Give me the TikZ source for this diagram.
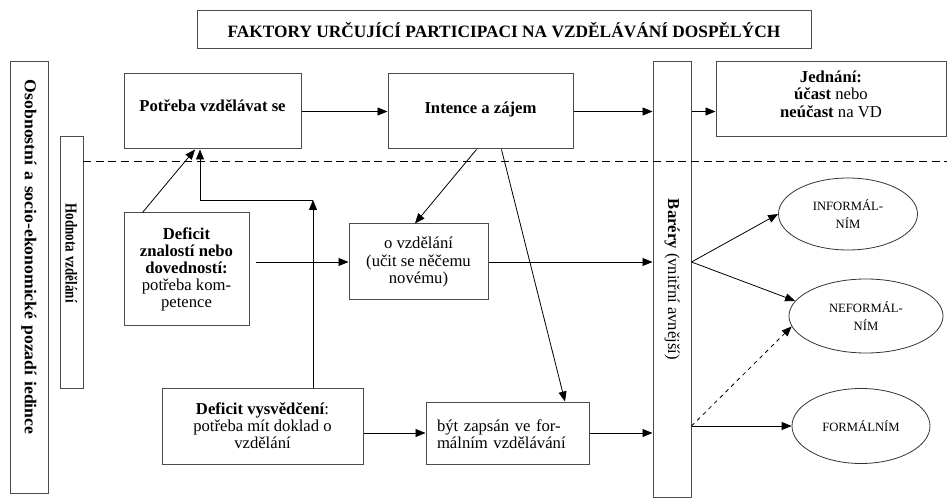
\documentclass[tikz,border=0pt]{standalone}
\usepackage{fontspec}
\setmainfont{Liberation Serif}
\usetikzlibrary{arrows.meta,shapes.geometric,calc}

\tikzset{
  ramec/.style={draw=black!70, line width=0.75pt, align=center, inner sep=2pt,
    font=\fontsize{12.5}{12.8}\selectfont},
  ovalek/.style={ellipse, draw=black!80, line width=0.6pt, align=center, inner sep=0pt,
    font=\fontsize{9.5}{14}\selectfont},
  sipka/.style={-{Triangle[length=7.5pt,width=6pt]}, line width=0.6pt},
  carkovane/.style={line width=0.75pt, dash pattern=on 6pt off 3.5pt},
}

\begin{document}
\begin{tikzpicture}[x=0.75pt, y=-0.75pt]
  \useasboundingbox (0,0) rectangle (947,499);

  % Nadpis
  \node[ramec, minimum width=460.5pt, minimum height=28.5pt,
    font=\fontsize{13}{14}\selectfont\bfseries] (nadpis) at (504,30)
    {FAKTORY URČUJÍCÍ PARTICIPACI NA VZDĚLÁVÁNÍ DOSPĚLÝCH};

  % Svislé sloupce
  \node[ramec, rotate=-90, inner xsep=13.5pt, inner ysep=0pt, text width=296.25pt, align=left,
    minimum height=28.5pt, font=\fontsize{12.5}{12.8}\selectfont\bfseries] (pozadi) at (29,277.5)
    {\scalebox{1.06}[1]{Osobnostní a socio-ekonomické pozadí iedince}};
  \node[ramec, rotate=-90, inner xsep=50pt, inner ysep=0pt, text width=88.25pt, align=left,
    minimum height=17.25pt, font=\fontsize{12.5}{12.8}\selectfont\bfseries] (hodnota) at (71.5,262.5)
    {\scalebox{0.78}[1]{Hodnota vzdělání}};
  \node[ramec, rotate=-90, inner sep=0pt, minimum width=326.25pt, minimum height=28.5pt]
    (bariery) at (672,279.5) {\textbf{Baréry} (vnitřní avnější)};

  % Dělicí čára
  \draw[carkovane] (83,162) -- (947,162);

  % Horní řada
  \node[ramec, minimum width=132.75pt, minimum height=56.25pt, text depth=9pt,
    font=\fontsize{12.5}{12.8}\selectfont\bfseries] (potreba) at (212.5,111.5) {Potřeba vzdělávat se};
  \node[ramec, minimum width=138.75pt, minimum height=56.25pt, text depth=6pt,
    font=\fontsize{12.5}{12.8}\selectfont\bfseries] (intence) at (480.5,111.5) {Intence a zájem};
  \node[ramec, minimum width=172.5pt, minimum height=56.25pt, text depth=8pt]
    (jednani) at (831,99.5) {\textbf{Jednání:}\\ \textbf{účast} nebo\\ \textbf{neúčast} na VD};

  % Deficity
  \node[ramec, minimum width=93.75pt, minimum height=84.75pt] (znalosti) at (186.5,269.5)
    {\textbf{Deficit}\\ \textbf{znalostí nebo}\\ \textbf{dovedností:}\\ potřeba kom-\\ petence};
  \node[ramec, minimum width=150.75pt, minimum height=57pt] (vysvedceni) at (262.5,426)
    {\textbf{Deficit vysvědčení}:\\ potřeba mít doklad o\\ vzdělání};

  % Zájem o ...
  \node[ramec, minimum width=104.25pt, minimum height=57pt] (ovzdelani) at (418.5,262)
    {o vzdělání\\ (učit se něčemu\\ novému)};
  \node[ramec, minimum width=122.25pt, minimum height=46.5pt, text width=105.75pt, align=left,
    text depth=11pt] (zapsan) at (507.5,433) {být zapsán ve for-\\ málním vzdělávání};

  % Formy vzdělávání
  \node[ovalek, minimum width=104.25pt, minimum height=54pt] (informalni) at (848,214) {INFORMÁL-\\ NÍM};
  \node[ovalek, minimum width=115.5pt, minimum height=55.5pt] (neformalni) at (866,316) {NEFORMÁL-\\ NÍM};
  \node[ovalek, minimum width=103.5pt, minimum height=56.25pt] (formalni) at (861,426) {FORMÁLNÍM};

  % Šipky
  \draw[sipka] (potreba) -- (intence);
  \draw[sipka] (intence.east) -- (intence.east -| bariery.south);
  \draw[sipka] (intence.east -| bariery.north) -- (intence.east -| jednani.west);

  \draw[sipka] ($(znalosti.north west)+(19,0)$) -- ($(potreba.south)+(-17.5,0)$);
  \coordinate (roh) at (313,200);
  \coordinate (roh2) at (200,200);
  \draw[sipka] (vysvedceni.north -| roh) -- (roh);
  \draw[sipka] (roh) -- (roh2) -- (potreba.south -| roh2);

  \draw[sipka] ($(intence.south)+(-4,0)$) -- ($(ovzdelani.north)+(-3.5,0)$);
  \draw[sipka] ($(intence.south)+(21,0)$) -- ($(zapsan.north)+(57.5,0)$);

  \draw[sipka] ($(znalosti.east |- ovzdelani.west)+(6,0)$) -- (ovzdelani.west);
  \draw[sipka] (ovzdelani.east) -- (ovzdelani.east -| bariery.south);
  \draw[sipka] (vysvedceni.east |- zapsan.west) -- (zapsan.west);
  \draw[sipka] (zapsan.east) -- (zapsan.east -| bariery.south);

  \coordinate (b1) at (ovzdelani.east -| bariery.north);
  \coordinate (b2) at (formalni.west -| bariery.north);
  \draw[sipka] (b1) -- (informalni.west);
  \draw[sipka] (b1) -- (neformalni.168);
  \draw[sipka, dashed] (b2) -- (neformalni.188);
  \draw[sipka] (b2) -- (formalni.west);

\end{tikzpicture}
\end{document}
